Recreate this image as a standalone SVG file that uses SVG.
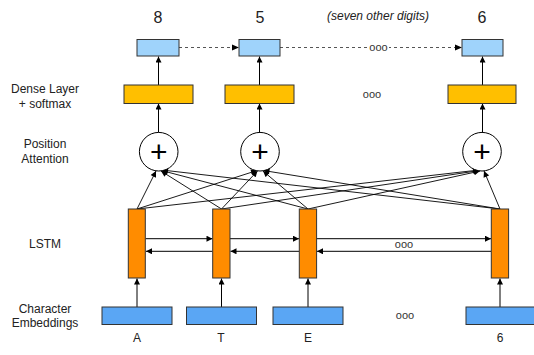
<svg xmlns="http://www.w3.org/2000/svg" width="534" height="355" viewBox="0 0 534 355">
<defs>
<marker id="ah" viewBox="0 0 10 10" refX="10" refY="5" markerWidth="7" markerHeight="6" markerUnits="userSpaceOnUse" orient="auto"><path d="M0,0 L10,5 L0,10 z" fill="#000"/></marker>
<style>
text{font-family:"Liberation Sans",Arial,Helvetica,sans-serif;fill:#222}
.lbl{font-size:12px;text-anchor:middle}
.dig{font-size:16px;text-anchor:middle}
.dots{font-size:11px;text-anchor:middle;fill:#333}
.plus{font-size:30px;text-anchor:middle;fill:#000}
.out{fill:#9fd3fb;stroke:#333;stroke-width:1}
.dense{fill:#ffbf00;stroke:#333;stroke-width:1}
.lstm{fill:#ff8c00;stroke:#333;stroke-width:1}
.emb{fill:#5aa6f4;stroke:#333;stroke-width:1}
.att{fill:#fff;stroke:#000;stroke-width:1}
.c{stroke:#000;stroke-width:1;fill:none;marker-end:url(#ah)}
.cl{stroke:#000;stroke-width:0.9;fill:none;marker-end:url(#ah)}
.d{stroke:#555;stroke-width:1;stroke-dasharray:3,3;fill:none}
</style>
</defs>
<rect width="534" height="355" fill="#fff"/>

<g id="labels">
<text class="lbl" x="45" y="93">Dense Layer</text>
<text class="lbl" x="45" y="108">+ softmax</text>
<text class="lbl" x="45" y="148">Position</text>
<text class="lbl" x="45" y="163">Attention</text>
<text class="lbl" x="45" y="248">LSTM</text>
<text class="lbl" x="45" y="313">Character</text>
<text class="lbl" x="45" y="327">Embeddings</text>
<text class="dig" x="158" y="23">8</text>
<text class="dig" x="260" y="23">5</text>
<text class="dig" x="482" y="23">6</text>
<text x="378" y="20" style="font-size:12px;font-style:italic;text-anchor:middle">(seven other digits)</text>
<text class="lbl" x="137" y="342">A</text>
<text class="lbl" x="221" y="342">T</text>
<text class="lbl" x="308" y="342">E</text>
<text class="lbl" x="500" y="342">6</text>
</g>

<g id="connectors">
<line class="d" x1="179" y1="47.5" x2="238" y2="47.5"/>
<path d="M232,44.5 L239,47.5 L232,50.5 z" fill="#000"/>
<line class="d" x1="280" y1="47.5" x2="369" y2="47.5"/>
<line class="d" x1="388" y1="47.5" x2="461" y2="47.5"/>
<path d="M455,44.5 L462,47.5 L455,50.5 z" fill="#000"/>
<!-- dense to output -->
<line class="c" x1="158.5" y1="85" x2="158.5" y2="56.5"/>
<line class="c" x1="259.5" y1="85" x2="259.5" y2="56.5"/>
<line class="c" x1="482.5" y1="85" x2="482.5" y2="56.5"/>
<!-- attention to dense -->
<line class="c" x1="158.5" y1="132.5" x2="158.5" y2="103.5"/>
<line class="c" x1="259.5" y1="132.5" x2="259.5" y2="103.5"/>
<line class="c" x1="482.5" y1="132.5" x2="482.5" y2="103.5"/>
<!-- lstm to attention -->
<line class="cl" x1="137" y1="209" x2="156" y2="171"/>
<line class="cl" x1="221.5" y1="209" x2="161" y2="171"/>
<line class="cl" x1="308" y1="209" x2="161.5" y2="170.5"/>
<line class="cl" x1="500" y1="209" x2="162" y2="170"/>
<line class="cl" x1="137" y1="209" x2="257" y2="170.5"/>
<line class="cl" x1="221.5" y1="209" x2="257.5" y2="171"/>
<line class="cl" x1="308" y1="209" x2="263" y2="171"/>
<line class="cl" x1="500" y1="209" x2="263.5" y2="170.5"/>
<line class="cl" x1="137" y1="209" x2="479" y2="170"/>
<line class="cl" x1="221.5" y1="209" x2="479.5" y2="170.5"/>
<line class="cl" x1="308" y1="209" x2="480" y2="171"/>
<line class="cl" x1="500" y1="209" x2="484" y2="171"/>
<!-- lstm recurrent -->
<line class="c" x1="145.5" y1="238.7" x2="212.5" y2="238.7"/>
<line class="c" x1="230" y1="238.7" x2="299" y2="238.7"/>
<line class="c" x1="316.5" y1="238.7" x2="491" y2="238.7"/>
<line class="c" x1="212.5" y1="251.3" x2="146" y2="251.3"/>
<line class="c" x1="299" y1="251.3" x2="230.5" y2="251.3"/>
<line class="c" x1="491" y1="251.3" x2="317" y2="251.3"/>
<!-- embeddings to lstm -->
<line class="c" x1="137" y1="307" x2="137" y2="278.5"/>
<line class="c" x1="221.5" y1="307" x2="221.5" y2="278.5"/>
<line class="c" x1="308" y1="307" x2="308" y2="278.5"/>
<line class="c" x1="500" y1="307" x2="500" y2="278.5"/>
</g>

<g id="out1"><rect class="out" x="137" y="39.5" width="42" height="16.5"/></g>
<g id="out2"><rect class="out" x="239" y="39.5" width="41" height="16.5"/></g>
<g id="out3"><rect class="out" x="462" y="39.5" width="41" height="16.5"/></g>
<g id="out-dots"><rect x="368" y="43" width="21" height="9" fill="#fff"/><text class="dots" x="378.5" y="50.5">ooo</text></g>

<g id="dense1"><rect class="dense" x="124" y="85" width="69" height="18.5"/></g>
<g id="dense2"><rect class="dense" x="225" y="85" width="69" height="18.5"/></g>
<g id="dense3"><rect class="dense" x="448" y="85" width="68" height="18.5"/></g>
<g id="dense-dots"><text class="dots" x="372" y="98">ooo</text></g>

<g id="att1"><circle class="att" cx="158.7" cy="151.7" r="19.3"/><text class="plus" x="158.7" y="162">+</text></g>
<g id="att2"><circle class="att" cx="260" cy="151.7" r="19.3"/><text class="plus" x="260" y="162">+</text></g>
<g id="att3"><circle class="att" cx="482" cy="151.7" r="19.3"/><text class="plus" x="482" y="162">+</text></g>

<g id="lstm1"><rect class="lstm" x="128.3" y="209" width="17" height="69"/></g>
<g id="lstm2"><rect class="lstm" x="212.7" y="209" width="17.3" height="69"/></g>
<g id="lstm3"><rect class="lstm" x="299.3" y="209" width="17.3" height="69"/></g>
<g id="lstm4"><rect class="lstm" x="491.3" y="209" width="17.3" height="69"/></g>
<g id="lstm-dots"><text class="dots" x="404" y="248">ooo</text></g>

<g id="emb1"><rect class="emb" x="102" y="307" width="70" height="17.5"/></g>
<g id="emb2"><rect class="emb" x="186.5" y="307" width="70" height="17.5"/></g>
<g id="emb3"><rect class="emb" x="273" y="307" width="70" height="17.5"/></g>
<g id="emb4"><rect class="emb" x="466" y="307" width="70" height="17.5"/></g>
<g id="emb-dots"><text class="dots" x="405" y="319">ooo</text></g>
</svg>
